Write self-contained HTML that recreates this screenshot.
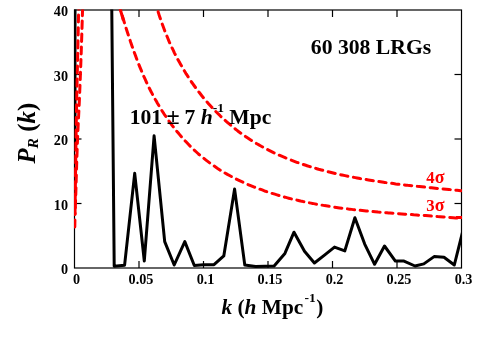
<!DOCTYPE html>
<html><head><meta charset="utf-8"><title>P_R(k)</title>
<style>
html,body{margin:0;padding:0;background:#fff;}
body{width:487px;height:346px;overflow:hidden;font-family:"Liberation Serif",serif;}
svg{display:block;will-change:transform;font-family:"Liberation Serif",serif;font-weight:bold;}
.ax line,.ax rect{stroke:#000;stroke-width:1.2;fill:none;}
.tl text{font-size:14.2px;fill:#000;}
</style></head>
<body>
<svg width="487" height="346" viewBox="0 0 487 346">
<rect x="0" y="0" width="487" height="346" fill="#fff"/>
<defs><clipPath id="c"><rect x="74" y="9.5" width="388" height="259"/></clipPath></defs>
<g class="ax"><rect x="74.5" y="10.0" width="387.0" height="258.0"/><line x1="139.0" y1="268.0" x2="139.0" y2="261.0"/><line x1="139.0" y1="10.0" x2="139.0" y2="17.0"/><line x1="203.5" y1="268.0" x2="203.5" y2="261.0"/><line x1="203.5" y1="10.0" x2="203.5" y2="17.0"/><line x1="268.0" y1="268.0" x2="268.0" y2="261.0"/><line x1="268.0" y1="10.0" x2="268.0" y2="17.0"/><line x1="332.5" y1="268.0" x2="332.5" y2="261.0"/><line x1="332.5" y1="10.0" x2="332.5" y2="17.0"/><line x1="397.0" y1="268.0" x2="397.0" y2="261.0"/><line x1="397.0" y1="10.0" x2="397.0" y2="17.0"/><line x1="74.5" y1="203.5" x2="81.5" y2="203.5"/><line x1="461.5" y1="203.5" x2="454.5" y2="203.5"/><line x1="74.5" y1="139.0" x2="81.5" y2="139.0"/><line x1="461.5" y1="139.0" x2="454.5" y2="139.0"/><line x1="74.5" y1="74.5" x2="81.5" y2="74.5"/><line x1="461.5" y1="74.5" x2="454.5" y2="74.5"/></g>
<g clip-path="url(#c)" fill="none" stroke-linejoin="round">
<polyline points="75.0,150.0 75.0,-20.0 111.5,-20.0 114.2,266.2 124.6,265.2 134.7,173.3 144.3,261.0 154.1,135.8 164.7,241.6 174.2,265.0 184.8,241.6 194.3,265.5 203.5,264.7 214.0,264.7 223.8,255.9 234.6,189.1 244.8,265.1 255.6,266.4 265.0,266.2 274.1,266.0 284.9,253.4 294.0,232.2 304.5,251.3 314.4,263.0 324.5,255.1 334.5,247.1 344.8,250.9 354.9,217.7 364.7,244.1 374.6,264.3 384.5,246.0 395.4,261.1 404.0,261.1 415.0,266.0 423.8,263.9 434.1,256.6 444.0,257.3 454.3,265.0 462.4,232.7" stroke="#000" stroke-width="3"/>
<path d="M461.4,218.5 C460.5,218.4 457.6,218.1 455.6,217.9 C453.6,217.8 451.6,217.6 449.6,217.4 C447.6,217.3 445.6,217.1 443.6,217.0 C441.6,216.8 439.6,216.6 437.6,216.5 C435.6,216.3 433.6,216.2 431.6,216.1 C429.6,215.9 427.6,215.8 425.7,215.6 C423.7,215.5 421.7,215.3 419.7,215.2 C417.7,215.1 415.7,214.9 413.7,214.8 C411.8,214.6 409.8,214.5 407.8,214.4 C405.8,214.2 403.8,214.1 401.9,213.9 C399.9,213.8 397.9,213.6 395.9,213.5 C393.9,213.3 392.0,213.2 390.0,213.0 C388.0,212.9 386.0,212.7 384.1,212.6 C382.1,212.4 380.1,212.2 378.1,212.1 C376.1,211.9 374.2,211.7 372.2,211.5 C370.2,211.3 368.2,211.1 366.2,210.9 C364.3,210.7 362.3,210.5 360.3,210.3 C358.3,210.1 356.3,209.9 354.3,209.7 C352.4,209.5 350.4,209.2 348.4,209.0 C346.4,208.7 344.4,208.5 342.4,208.2 C340.4,208.0 338.4,207.7 336.4,207.4 C334.5,207.1 332.5,206.8 330.5,206.5 C328.5,206.2 326.5,205.9 324.5,205.6 C322.5,205.2 320.5,204.9 318.5,204.5 C316.5,204.2 314.5,203.8 312.5,203.4 C310.5,203.1 308.5,202.7 306.5,202.3 C304.5,201.9 302.6,201.4 300.6,201.0 C298.6,200.5 296.6,200.1 294.6,199.6 C292.7,199.2 290.7,198.7 288.7,198.2 C286.8,197.7 284.8,197.1 282.9,196.6 C280.9,196.1 279.0,195.5 277.0,194.9 C275.1,194.4 273.2,193.8 271.3,193.2 C269.3,192.5 267.4,191.9 265.5,191.3 C263.6,190.6 261.7,189.9 259.9,189.2 C258.0,188.6 256.1,187.8 254.3,187.1 C252.4,186.4 250.6,185.6 248.7,184.8 C246.9,184.1 245.1,183.3 243.3,182.4 C241.5,181.6 239.7,180.8 237.9,179.9 C236.1,179.0 234.4,178.1 232.6,177.2 C230.9,176.3 229.1,175.3 227.4,174.4 C225.7,173.4 224.0,172.4 222.3,171.4 C220.6,170.4 219.0,169.3 217.3,168.2 C215.7,167.1 214.1,166.0 212.5,164.9 C210.8,163.8 209.3,162.6 207.7,161.4 C206.1,160.2 204.6,159.0 203.1,157.8 C201.5,156.5 200.0,155.3 198.5,154.0 C197.1,152.7 195.6,151.3 194.2,150.0 C192.7,148.6 191.3,147.3 189.9,145.9 C188.5,144.5 187.1,143.0 185.8,141.6 C184.4,140.1 183.1,138.6 181.8,137.2 C180.4,135.7 179.2,134.1 177.9,132.6 C176.6,131.1 175.4,129.5 174.1,127.9 C172.9,126.4 171.7,124.8 170.5,123.1 C169.3,121.5 168.1,119.9 167.0,118.2 C165.9,116.6 164.7,114.9 163.6,113.2 C162.5,111.6 161.5,109.9 160.4,108.1 C159.3,106.4 158.3,104.7 157.3,103.0 C156.3,101.2 155.3,99.5 154.3,97.7 C153.3,95.9 152.4,94.2 151.5,92.4 C150.5,90.6 149.6,88.8 148.7,87.0 C147.8,85.2 147.0,83.3 146.1,81.5 C145.3,79.7 144.5,77.8 143.6,76.0 C142.8,74.2 142.0,72.3 141.3,70.4 C140.5,68.6 139.7,66.7 139.0,64.9 C138.2,63.0 137.5,61.1 136.8,59.2 C136.1,57.4 135.4,55.5 134.7,53.6 C134.0,51.7 133.3,49.8 132.7,47.9 C132.0,46.1 131.4,44.2 130.7,42.3 C130.1,40.4 129.5,38.5 128.8,36.6 C128.2,34.7 127.6,32.9 127.0,31.0 C126.4,29.1 125.8,27.2 125.2,25.3 C124.6,23.5 124.1,21.6 123.5,19.7 C122.9,17.9 122.4,16.0 121.8,14.2 C121.2,12.3 120.7,10.5 120.1,8.6 C119.6,6.8 118.8,4.0 118.5,3.1" stroke="#f00" stroke-width="3" stroke-linecap="round" stroke-dasharray="7.22,5.62" stroke-dashoffset="8.4"/>
<path d="M120.1,9 L122.7,17.7 L123.4,20.5" stroke="#f00" stroke-width="3"/>
<path d="M462,217.6 L456,217.5" stroke="#f00" stroke-width="3"/>
<path d="M461.2,190.7 C461.1,190.7 461.8,190.8 460.7,190.7 C459.7,190.6 456.8,190.3 454.9,190.1 C452.9,189.9 451.0,189.7 449.0,189.5 C447.1,189.3 445.1,189.1 443.2,188.9 C441.2,188.7 439.2,188.6 437.3,188.4 C435.3,188.2 433.3,188.0 431.4,187.8 C429.4,187.6 427.4,187.4 425.4,187.2 C423.5,187.0 421.5,186.8 419.5,186.6 C417.5,186.4 415.5,186.2 413.6,185.9 C411.6,185.7 409.6,185.5 407.6,185.3 C405.6,185.0 403.6,184.8 401.6,184.6 C399.7,184.3 397.7,184.1 395.7,183.9 C393.7,183.6 391.7,183.3 389.7,183.1 C387.7,182.8 385.7,182.6 383.7,182.3 C381.8,182.0 379.8,181.7 377.8,181.4 C375.8,181.1 373.8,180.8 371.8,180.5 C369.8,180.2 367.8,179.9 365.9,179.5 C363.9,179.2 361.9,178.9 359.9,178.5 C357.9,178.1 355.9,177.8 354.0,177.4 C352.0,177.0 350.0,176.6 348.0,176.2 C346.0,175.8 344.1,175.4 342.1,175.0 C340.1,174.6 338.1,174.1 336.2,173.7 C334.2,173.2 332.2,172.7 330.3,172.2 C328.3,171.8 326.4,171.3 324.4,170.8 C322.5,170.2 320.5,169.7 318.6,169.2 C316.6,168.6 314.7,168.1 312.8,167.5 C310.9,166.9 308.9,166.3 307.0,165.7 C305.1,165.1 303.2,164.4 301.3,163.8 C299.4,163.1 297.5,162.5 295.6,161.8 C293.8,161.1 291.9,160.4 290.0,159.7 C288.2,158.9 286.3,158.2 284.5,157.4 C282.6,156.7 280.8,155.9 279.0,155.1 C277.2,154.3 275.4,153.4 273.6,152.6 C271.8,151.7 270.0,150.8 268.2,149.9 C266.5,149.0 264.7,148.1 263.0,147.2 C261.3,146.2 259.5,145.3 257.8,144.3 C256.1,143.3 254.4,142.3 252.7,141.2 C251.1,140.2 249.4,139.1 247.8,138.0 C246.1,136.9 244.5,135.8 242.9,134.7 C241.3,133.5 239.7,132.4 238.1,131.2 C236.5,130.0 235.0,128.7 233.4,127.5 C231.9,126.3 230.4,125.0 228.9,123.7 C227.4,122.4 225.9,121.1 224.4,119.8 C222.9,118.4 221.5,117.1 220.1,115.7 C218.6,114.3 217.2,112.9 215.8,111.5 C214.4,110.1 213.1,108.6 211.7,107.2 C210.4,105.7 209.0,104.2 207.7,102.7 C206.4,101.2 205.1,99.7 203.8,98.2 C202.5,96.6 201.3,95.1 200.1,93.5 C198.8,91.9 197.6,90.4 196.4,88.7 C195.2,87.1 194.0,85.5 192.9,83.9 C191.7,82.2 190.6,80.6 189.5,78.9 C188.4,77.2 187.3,75.6 186.2,73.9 C185.2,72.2 184.1,70.4 183.1,68.7 C182.1,67.0 181.1,65.2 180.1,63.5 C179.1,61.7 178.1,60.0 177.2,58.2 C176.3,56.4 175.3,54.6 174.4,52.8 C173.6,51.0 172.7,49.2 171.8,47.4 C171.0,45.6 170.1,43.7 169.3,41.9 C168.5,40.0 167.7,38.2 167.0,36.3 C166.2,34.5 165.4,32.6 164.7,30.7 C164.0,28.9 163.3,27.0 162.6,25.1 C161.9,23.2 161.2,21.3 160.6,19.4 C160.0,17.5 159.3,15.6 158.7,13.6 C158.1,11.7 157.6,9.8 157.0,7.9 C156.4,5.9 155.7,3.0 155.4,2.1" stroke="#f00" stroke-width="3" stroke-linecap="round" stroke-dasharray="7.27,5.65" stroke-dashoffset="1.7"/>
<path d="M74.8,227.0 C74.9,222.5 75.0,214.5 75.2,200.0 C75.4,185.5 75.7,157.5 76.0,140.0 C76.3,122.5 76.5,110.0 76.8,95.0 C77.1,80.0 77.5,64.5 77.8,50.0 C78.1,35.5 78.5,15.0 78.7,8.0" stroke="#f00" stroke-width="3" stroke-linecap="round" stroke-dasharray="7.2,5.6"/>
<path d="M75.0,214.0 C75.1,211.7 75.2,212.3 75.6,200.0 C76.0,187.7 76.8,157.5 77.5,140.0 C78.2,122.5 79.0,110.0 79.6,95.0 C80.2,80.0 80.8,64.5 81.3,50.0 C81.8,35.5 82.4,15.0 82.6,8.0" stroke="#f00" stroke-width="3" stroke-linecap="round" stroke-dasharray="7.2,5.6" stroke-dashoffset="6.4"/>
</g>
<g class="tl"><text x="76.5" y="284" text-anchor="middle">0</text><text x="141.0" y="284" text-anchor="middle">0.05</text><text x="205.5" y="284" text-anchor="middle">0.1</text><text x="270.0" y="284" text-anchor="middle">0.15</text><text x="334.5" y="284" text-anchor="middle">0.2</text><text x="399.0" y="284" text-anchor="middle">0.25</text><text x="463.5" y="284" text-anchor="middle">0.3</text><text x="68" y="274.0" text-anchor="end">0</text><text x="68" y="209.5" text-anchor="end">10</text><text x="68" y="145.0" text-anchor="end">20</text><text x="68" y="80.5" text-anchor="end">30</text><text x="68" y="16.0" text-anchor="end">40</text></g>
<text x="310.8" y="54" font-size="21.7px">60 308 LRGs</text>
<text x="129.7" y="124.4" font-size="21.6px">101<tspan dx="4.4" font-size="24px">±</tspan><tspan dx="4.8">7</tspan> <tspan font-style="italic">h</tspan><tspan font-size="13.5px" dy="-12">-1</tspan><tspan dy="12"> Mpc</tspan></text>
<text x="426.3" y="183" font-size="16.7px" fill="#f00">4<tspan font-size="18px">σ</tspan></text>
<text x="426.3" y="211.3" font-size="16.7px" fill="#f00">3<tspan font-size="18px">σ</tspan></text>
<text x="221.5" y="314.2" font-size="21.33px"><tspan font-style="italic">k</tspan> (<tspan font-style="italic">h</tspan> Mpc<tspan font-size="13.5px" dy="-12.3" dx="1.3">-1</tspan><tspan dy="12.3" dx="0.3">)</tspan></text>
<text transform="translate(35.1,163.6) rotate(-90)" font-size="24.9px"><tspan font-style="italic">P</tspan><tspan font-style="italic" font-size="15.5px" dy="3">R</tspan><tspan dy="-3"> (</tspan><tspan font-style="italic">k</tspan>)</text>
</svg>
</body></html>
